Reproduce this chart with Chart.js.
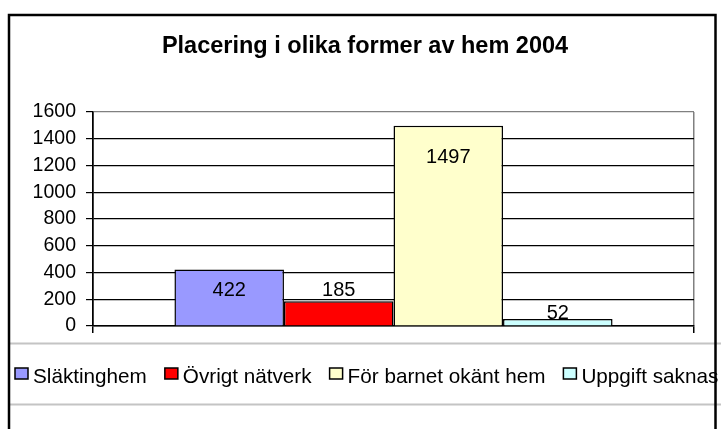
<!DOCTYPE html>
<html>
<head>
<meta charset="utf-8">
<script src="https://cdn.jsdelivr.net/npm/chart.js@4/dist/chart.umd.min.js"></script>
<style>
  html, body { margin: 0; padding: 0; background: #fff; overflow: hidden; }
  #wrap { position: relative; width: 721px; height: 429px; }
</style>
</head>
<body>
<div id="wrap"><canvas id="homesChart"></canvas></div>
<script>
// Chart data
const categories = [''];
const seriesNames = ['Släktinghem', 'Övrigt nätverk', 'För barnet okänt hem', 'Uppgift saknas'];
const seriesValues = [422, 185, 1497, 52];
const yTickValues = [0, 200, 400, 600, 800, 1000, 1200, 1400, 1600];
const chartTitle = 'Placering i olika former av hem 2004';

// Excel-like palette
const seriesColors = ['#9999FF', '#FF0000', '#FFFFCC', '#CCFFFF'];
// where each value label sits, relative to the top of its bar (baseline, px)
const labelOffsets = [26, -5, 37, 0];

const FONT = "'Liberation Sans', Arial, sans-serif";

const decorPlugin = {
  id: 'decor',
  afterDatasetsDraw(chart) {
    const ctx = chart.ctx;
    ctx.save();
    ctx.fillStyle = '#000';
    ctx.font = '20px ' + FONT;
    ctx.textAlign = 'center';
    ctx.textBaseline = 'alphabetic';
    chart.data.datasets.forEach((ds, i) => {
      const bar = chart.getDatasetMeta(i).data[0];
      ctx.fillText(String(ds.data[0]), bar.x, bar.y + labelOffsets[i]);
    });
    ctx.restore();
  },
  afterDraw(chart) {
    const ctx = chart.ctx;
    ctx.save();

    // title
    ctx.fillStyle = '#000';
    ctx.font = 'bold 23.5px ' + FONT;
    ctx.textAlign = 'center';
    ctx.textBaseline = 'alphabetic';
    ctx.fillText(chartTitle, 365, 53);

    // legend frame lines
    ctx.strokeStyle = '#c4c4c4';
    ctx.lineWidth = 2;
    ctx.beginPath();
    ctx.moveTo(9, 343.5); ctx.lineTo(721, 343.5);
    ctx.moveTo(9, 404.5); ctx.lineTo(721, 404.5);
    ctx.stroke();

    // legend items
    ctx.font = '20.7px ' + FONT;
    ctx.textAlign = 'left';
    let x = 15;
    chart.data.datasets.forEach((ds) => {
      ctx.fillStyle = ds.backgroundColor;
      ctx.fillRect(x, 368, 13, 11);
      ctx.strokeStyle = '#000';
      ctx.lineWidth = 1.5;
      ctx.strokeRect(x, 368, 13, 11);
      ctx.fillStyle = '#000';
      ctx.fillText(ds.label, x + 18, 383);
      x += 18 + ctx.measureText(ds.label).width + 18;
    });

    // outer border
    ctx.strokeStyle = '#000';
    ctx.lineWidth = 2.5;
    ctx.strokeRect(9, 15, 706.5, 600);
    ctx.restore();
  }
};

const chartData = {
  labels: categories,
  datasets: seriesNames.map((name, i) => ({
    label: name,
    data: [seriesValues[i]],
    backgroundColor: seriesColors[i],
    borderColor: '#000',
    borderWidth: 1.5,
    categoryPercentage: 0.729,
    barPercentage: 1.0
  }))
};

new Chart(document.getElementById('homesChart').getContext('2d'), {
  type: 'bar',
  data: chartData,
  plugins: [decorPlugin],
  options: {
    responsive: true,
    maintainAspectRatio: false,
    animation: false,
    layout: { padding: { top: 112, right: 27, bottom: 0, left: 0 } },
    plugins: {
      legend: { display: false },
      title: { display: false },
      tooltip: { enabled: false }
    },
    scales: {
      x: {
        offset: true,
        ticks: { display: false },
        grid: {
          offset: true,
          color: (c) => c.index === 0 ? '#000' : '#808080',
          tickColor: '#000',
          tickLength: 7,
          lineWidth: 1.5
        },
        border: { color: '#000', width: 1.5 },
        afterFit: (scale) => { scale.height = 103; }
      },
      y: {
        min: 0,
        max: 1600,
        afterBuildTicks: (scale) => { scale.ticks = yTickValues.map(v => ({ value: v })); },
        ticks: {
          color: '#000',
          font: { family: FONT, size: 19.5 },
          padding: 10,
          callback: (v) => String(v)
        },
        grid: {
          color: (c) => c.tick && c.tick.value === 1600 ? '#808080' : '#000',
          tickColor: '#000',
          tickLength: 7,
          lineWidth: 1.2
        },
        border: { color: '#000', width: 1.5 },
        afterFit: (scale) => { scale.width = 93; }
      }
    }
  }
});
</script>
</body>
</html>
